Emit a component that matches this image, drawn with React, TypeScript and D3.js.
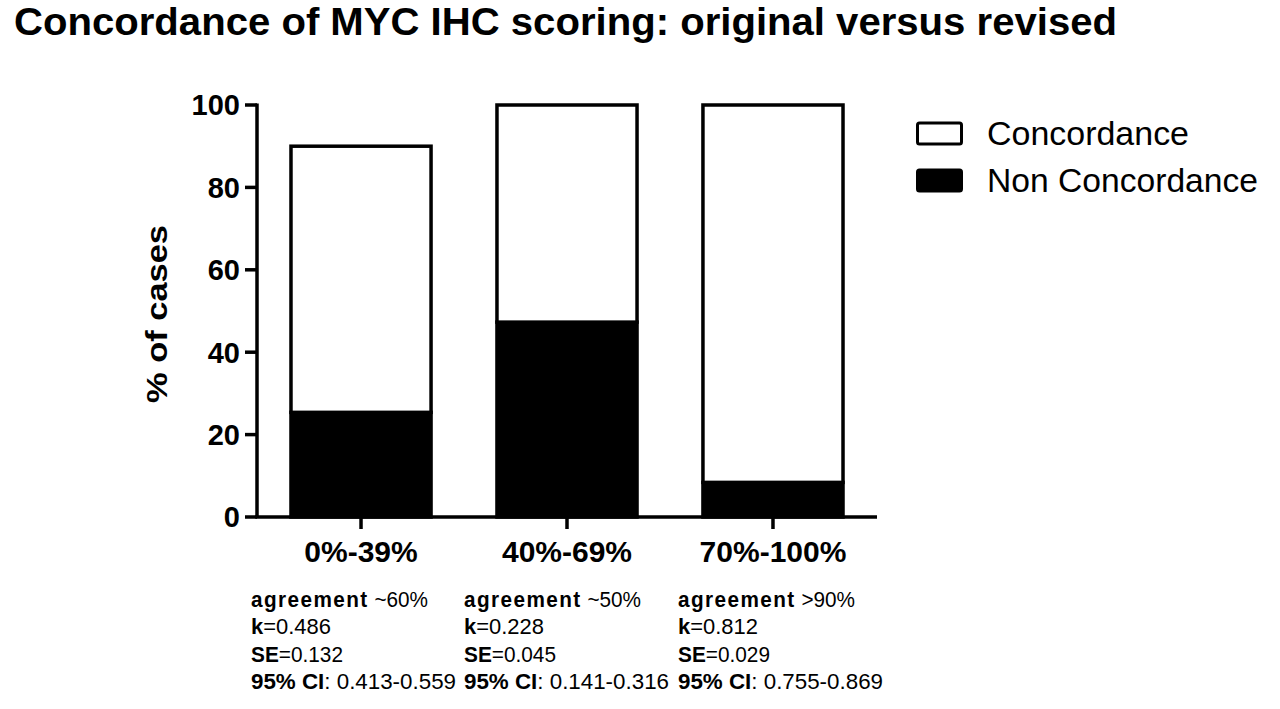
import React from "react";
import * as d3 from "d3";

const categories = ["0%-39%", "40%-69%", "70%-100%"];
const nonConcordance = [25.4, 47.3, 8.4];
const concordance = [64.6, 52.7, 91.6];
const seriesNames = ["Non Concordance", "Concordance"];
const yTicks = [0, 20, 40, 60, 80, 100];
const agreement = ["~60%", "~50%", ">90%"];
const kappa = ["0.486", "0.228", "0.812"];
const se = ["0.132", "0.045", "0.029"];
const ci = ["0.413-0.559", "0.141-0.316", "0.755-0.869"];

const W = 1280;
const H = 709;
const FONT = "'Liberation Sans', Arial, Helvetica, sans-serif";

export default function App() {
  const x = d3
    .scaleBand<string>()
    .domain(categories)
    .range([257, 877])
    .paddingInner(0.32)
    .paddingOuter(0.165);
  const y = d3.scaleLinear().domain([0, 100]).range([517, 105]);

  const rows = categories.map((c, i) => ({
    cat: c,
    "Non Concordance": nonConcordance[i],
    Concordance: concordance[i],
  }));
  const stacked = d3.stack<any>().keys(seriesNames)(rows);
  const fills: Record<string, string> = {
    "Non Concordance": "#000",
    Concordance: "#fff",
  };

  const annotX = [251, 464, 678];
  const lineY = [606.5, 634, 661.5, 688.5];

  return (
    <svg
      width={W}
      height={H}
      style={{ position: "absolute", left: 0, top: 0, background: "#fff" }}
      fontFamily={FONT}
    >
      <rect x={0} y={0} width={W} height={H} fill="#fff" />
      <text
        x={14}
        y={35}
        fontSize={39}
        fontWeight="bold"
        textLength={1103}
        lengthAdjust="spacingAndGlyphs"
      >
        Concordance of MYC IHC scoring: original versus revised
      </text>

      {/* bars */}
      {stacked.map((s) =>
        s.map((d, i) => (
          <rect
            key={s.key + i}
            x={x(categories[i])!}
            y={y(d[1])}
            width={x.bandwidth()}
            height={y(d[0]) - y(d[1])}
            fill={fills[s.key]}
            stroke="#000"
            strokeWidth={3.5}
          />
        ))
      )}

      {/* y axis */}
      <line x1={257} x2={257} y1={y(100) - 1.5} y2={y(0)} stroke="#000" strokeWidth={3.5} />
      {yTicks.map((t) => (
        <g key={t}>
          <line x1={245} x2={257} y1={y(t)} y2={y(t)} stroke="#000" strokeWidth={3.5} />
          <text
            x={240}
            y={y(t)}
            dy="0.36em"
            textAnchor="end"
            fontSize={29}
            fontWeight="bold"
          >
            {t}
          </text>
        </g>
      ))}
      <text
        transform={`translate(167,314) rotate(-90)`}
        textAnchor="middle"
        fontSize={30}
        fontWeight="bold"
        textLength={178}
        lengthAdjust="spacingAndGlyphs"
      >
        % of cases
      </text>

      {/* x axis */}
      <line x1={255.25} x2={877} y1={y(0)} y2={y(0)} stroke="#000" strokeWidth={3.5} />
      {categories.map((c) => {
        const cx = x(c)! + x.bandwidth() / 2;
        return (
          <g key={c}>
            <line x1={cx} x2={cx} y1={y(0)} y2={529} stroke="#000" strokeWidth={3.5} />
            <text x={cx} y={562} textAnchor="middle" fontSize={30} fontWeight="bold">
              {c}
            </text>
          </g>
        );
      })}

      {/* annotations */}
      {categories.map((c, i) => (
        <g key={"a" + c} fontSize={22}>
          <text x={annotX[i]} y={lineY[0]} textLength={177} lengthAdjust="spacingAndGlyphs">
            <tspan fontWeight="bold" letterSpacing={1.5}>agreement</tspan>
            <tspan> {agreement[i]}</tspan>
          </text>
          <text x={annotX[i]} y={lineY[1]} textLength={80} lengthAdjust="spacingAndGlyphs">
            <tspan fontWeight="bold">k</tspan>
            <tspan>={kappa[i]}</tspan>
          </text>
          <text x={annotX[i]} y={lineY[2]} textLength={92} lengthAdjust="spacingAndGlyphs">
            <tspan fontWeight="bold">SE</tspan>
            <tspan>={se[i]}</tspan>
          </text>
          <text x={annotX[i]} y={lineY[3]} textLength={205} lengthAdjust="spacingAndGlyphs">
            <tspan fontWeight="bold">95% CI</tspan>
            <tspan>: {ci[i]}</tspan>
          </text>
        </g>
      ))}

      {/* legend */}
      {["Concordance", "Non Concordance"].map((name, i) => (
        <g key={name}>
          <rect
            x={917.5}
            y={123 + i * 47}
            width={44}
            height={21}
            rx={2}
            fill={fills[name]}
            stroke="#000"
            strokeWidth={3}
          />
          <text
            x={987}
            y={145 + i * 47}
            fontSize={34}
            textLength={name === "Concordance" ? 202 : 271}
            lengthAdjust="spacingAndGlyphs"
          >
            {name}
          </text>
        </g>
      ))}
    </svg>
  );
}
